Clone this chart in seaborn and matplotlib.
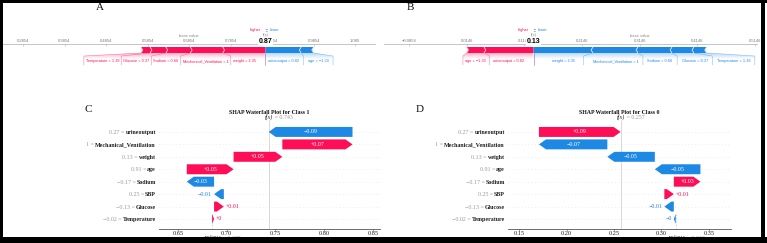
import numpy as np
import matplotlib
matplotlib.use("Agg")
import matplotlib.pyplot as plt
import seaborn as sns
from matplotlib.patches import Polygon, Rectangle
from matplotlib.colors import LinearSegmentedColormap
from matplotlib.transforms import blended_transform_factory, ScaledTranslation

# ---------------- data ----------------
force_features = ["age", "urineoutput", "weight", "Mechanical_Ventilation",
                  "Sodium", "Glucose", "Temperature"]
force_feature_values = ["\u22121.33", "0.82", "2.35", "1", "0.66", "0.37", "1.39"]
force_shap_class1 = [-0.030, -0.086, 0.103, 0.078, 0.059, 0.038, 0.022]
force_shap_class0 = [0.030, 0.086, -0.103, -0.078, -0.059, -0.038, -0.022]
force_base_class1 = 0.6854
force_base_class0 = 0.3146
force_ticks_class1 = [0.2854, 0.3854, 0.4854, 0.5854, 0.6854, 0.7854, 0.8854, 0.9854, 1.085]
force_ticks_class0 = [-0.0854, 0.0146, 0.1146, 0.2146, 0.3146, 0.4146, 0.5146]

wf_features = ["urineoutput", "Mechanical_Ventilation", "weight", "age",
               "Sodium", "SBP", "Glucose", "Temperature"]
wf_feature_values = ["0.27", "1", "0.13", "0.91", "\u22120.17", "0.25", "\u22120.13", "\u22120.02"]
wf_shap_class1 = [-0.086, 0.072, 0.050, 0.048, -0.028, -0.010, 0.010, 0.002]
wf_shap_class0 = [0.086, -0.072, -0.050, -0.048, 0.028, 0.010, -0.010, -0.002]
wf_base_class1 = 0.685
wf_base_class0 = 0.315
wf_ticks_class1 = [0.65, 0.70, 0.75, 0.80, 0.85]
wf_ticks_class0 = [0.15, 0.20, 0.25, 0.30, 0.35]

# ---------------- style ----------------
sns.set_theme(style="white")
SANS = ['Liberation Sans', 'DejaVu Sans']
SERIF = ['Liberation Serif', 'DejaVu Serif']
plt.rcParams['font.family'] = SANS
plt.rcParams['axes.unicode_minus'] = True

RED = "#FF0D57"
BLUE = "#1E88E5"
RED_L = "#FFC3D5"
BLUE_L = "#D1E6FA"

W, H, DPI = 767, 243, 100
fig = plt.figure(figsize=(W / DPI, H / DPI), dpi=DPI)
fig.patch.set_facecolor("white")


def px_axes(x0, y0, x1, y1):
    return fig.add_axes([x0 / W, 1 - y1 / H, (x1 - x0) / W, (y1 - y0) / H])


def renderer():
    fig.canvas.draw()
    return fig.canvas.get_renderer()


# ---------------- force plot ----------------
def force_plot(px0, px1, xlim, shap_vals, base, ticks):
    Y_AX, Y_END = 44, 80
    ax = px_axes(px0, Y_AX, px1, Y_END)
    ax.set_facecolor("none")
    for k, sp in ax.spines.items():
        sp.set_visible(k == "top")
    ax.spines["top"].set_color("#bbbbbb")
    ax.spines["top"].set_linewidth(0.6)
    ax.set_xticks(ticks)
    ax.set_xticklabels([f"{t:.4g}".replace("-", "\u2212") for t in ticks],
                       fontsize=3, color="#777777", fontfamily=SANS)
    ax.tick_params(axis="x", top=True, labeltop=True, bottom=False, labelbottom=False,
                   direction="in", length=1.5, width=0.4, color="#aaaaaa", pad=0.6)
    ax.set_yticks([])
    sx = (xlim[1] - xlim[0]) / (px1 - px0)
    out = base + sum(shap_vals)

    Y_TOP, Y_BOT, Y_MID = 47, 53, 50
    Y_LAB, Y_KNEE, Y_LOW = 61, 56, 65
    sep_w = (xlim[1] - xlim[0]) / 200

    items = list(zip(shap_vals, force_features, force_feature_values))
    pos = sorted([it for it in items if it[0] > 0], key=lambda t: -t[0])
    neg = sorted([it for it in items if it[0] < 0], key=lambda t: t[0])

    groups = []
    for kind, feats in (("pos", pos), ("neg", neg)):
        pre = out
        segs = []
        for idx, (v, name, fv) in enumerate(feats):
            if kind == "pos":
                left, right = pre - v, pre
                pre = left
                ind, sep_pos, c, cl = sep_w, left, RED, RED_L
            else:
                left, right = pre, pre - v
                pre = right
                ind, sep_pos, c, cl = -sep_w, right, BLUE, BLUE_L
            if idx == 0:
                if kind == "pos":
                    pts = [(left, Y_BOT), (right, Y_BOT), (right, Y_TOP), (left, Y_TOP), (left + ind, Y_MID)]
                else:
                    pts = [(right, Y_BOT), (left, Y_BOT), (left, Y_TOP), (right, Y_TOP), (right + ind, Y_MID)]
            else:
                pts = [(left, Y_BOT), (right, Y_BOT), (right + ind * 0.9, Y_MID), (right, Y_TOP),
                       (left, Y_TOP), (left + ind * 0.9, Y_MID)]
            ax.add_patch(Polygon(pts, closed=True, facecolor=c, lw=0, zorder=3))
            ax.add_patch(Polygon([(sep_pos, Y_BOT), (sep_pos + ind, Y_MID), (sep_pos, Y_TOP)],
                                 closed=False, fill=False, edgecolor=cl, lw=0.6, zorder=4))
            segs.append((left, right, name, fv))
        groups.append((kind, segs))

    texts = []
    for kind, segs in groups:
        c = RED if kind == "pos" else BLUE
        ts = [ax.text((l + r) / 2, Y_LAB, f"{n} = {fv}", fontsize=2.8, color=c,
                      ha="center", va="center", fontfamily=SANS, zorder=5) for l, r, n, fv in segs]
        texts.append(ts)
    r_ = renderer()
    for (kind, segs), ts in zip(groups, texts):
        c = RED if kind == "pos" else BLUE
        gap = (4 if kind == "pos" else 9) * sx
        prev = np.inf if kind == "pos" else -np.inf
        edges = []
        for (l, r, n, fv), t in zip(segs, ts):
            w = t.get_window_extent(r_).width * sx
            cen = (l + r) / 2
            if kind == "pos":
                right = min(cen + w / 2, prev - gap)
                left = right - w
                prev = left
            else:
                left = max(cen - w / 2, prev + gap)
                right = left + w
                prev = right
            t.set_x((left + right) / 2)
            edges.append((left, right))
        ax.plot([out, out], [Y_BOT, Y_LOW], color=c, lw=0.4, alpha=0.5, zorder=2)
        for i, ((l, r, n, fv), (el, er)) in enumerate(zip(segs, edges)):
            if kind == "pos":
                val = l
                sep = (el + edges[i + 1][1]) / 2 if i + 1 < len(edges) else el - gap / 2
            else:
                val = r
                sep = (er + edges[i + 1][0]) / 2 if i + 1 < len(edges) else er + gap / 2
            ax.plot([val, sep, sep], [Y_BOT, Y_KNEE, Y_LOW], color=c, lw=0.4, alpha=0.5, zorder=2)
            outer_sep, outer_val = sep, val
        patch = Polygon([(out, Y_BOT), (outer_val, Y_BOT), (outer_sep, Y_KNEE), (outer_sep, Y_LOW),
                         (out, Y_LOW)], closed=True, fc="none", ec="none")
        ax.add_patch(patch)
        cm = LinearSegmentedColormap.from_list("g", [c, "white"])
        Z = np.clip(np.linspace(0, 2, 60), 0, 1)[:, None] * np.ones((1, 2))
        im = ax.imshow(Z, cmap=cm, vmin=0, vmax=1, alpha=0.3,
                       extent=(min(out, outer_sep), max(out, outer_sep), Y_LOW, Y_BOT),
                       origin="upper", aspect="auto", interpolation="bilinear", zorder=1)
        im.set_clip_path(patch)
    ax.set_xlim(*xlim)
    ax.set_ylim(Y_END, Y_AX)

    off = 4.5 * sx
    ax.text(out - off, 30, "higher", color=RED, fontsize=3, ha="right", va="center", fontfamily=SANS)
    ax.text(out + off, 30, "lower", color=BLUE, fontsize=3, ha="left", va="center", fontfamily=SANS)
    ax.text(out, 29.3, "\u2192", color=RED, fontsize=2.4, ha="center", va="center", fontfamily=SANS)
    ax.text(out, 30.9, "\u2190", color=BLUE, fontsize=2.4, ha="center", va="center", fontfamily=SANS)
    ax.text(out, 35.3, "f(x)", color="#888888", fontsize=3, ha="center", va="center", fontfamily=SANS)
    ax.text(base, 35.8, "base value", color="#888888", fontsize=3, ha="center", va="center",
            fontfamily=SANS, bbox=dict(fc="white", ec="none", pad=0.2))
    ax.text(out, 41.6, f"{out:.2f}", color="black", fontsize=5, weight="bold", ha="center",
            va="center", fontfamily=SANS, bbox=dict(fc="white", ec="none", pad=0.3), zorder=6)
    return ax


# ---------------- waterfall ----------------
def fmt(v):
    s = f"{v:+.2f}".rstrip("0").rstrip(".")
    return s.replace("-", "\u2212")


def waterfall(px0, px1, xlim, shap_vals, base, cls, ticks):
    Y0, Y1 = 120, 229
    FS = 4.3
    ax = px_axes(px0, Y0, px1, Y1)
    ax.set_facecolor("none")
    ax.set_xlim(*xlim)
    ylim = (-0.805, 7.96)
    ax.set_ylim(*ylim)
    sns.despine(ax=ax, left=True, top=True, right=True)
    ax.spines["bottom"].set_color("#555555")
    ax.spines["bottom"].set_linewidth(0.6)
    ax.set_xticks(ticks)
    ax.set_xticklabels([f"{t:.2f}" for t in ticks], fontsize=4.6, fontfamily=SERIF, color="#222222")
    ax.tick_params(axis="x", bottom=True, length=1.2, width=0.4, color="#555555", pad=0.2)
    ax.set_yticks([])
    sx = (xlim[1] - xlim[0]) / (px1 - px0)
    n = len(wf_features)
    vals_rev = np.array(shap_vals[::-1], dtype=float)
    starts = base + np.concatenate([[0.0], np.cumsum(vals_rev)[:-1]])
    fx = base + float(np.sum(vals_rev))

    for r in range(n):
        ax.axhline(r, color="#cccccc", lw=0.4, dashes=(1, 5), zorder=0)
    ax.axvline(fx, color="#bbbbbb", lw=0.4, zorder=0, ymax=1.0)
    ax.axvline(base, color="#bbbbbb", lw=0.4, zorder=0, ymax=(0.5 - ylim[0]) / (ylim[1] - ylim[0]),
               ls=(0, (3, 3)))

    h = 0.8
    hl_max = 7 * sx
    val_texts = []
    for r, s, v in zip(range(n), starts, vals_rev):
        e = s + v
        c = RED if v > 0 else BLUE
        hl = min(abs(v), hl_max)
        sg = 1 if v > 0 else -1
        pts = [(s, r - h / 2), (e - sg * hl, r - h / 2), (e, r), (e - sg * hl, r + h / 2), (s, r + h / 2)]
        ax.add_patch(Polygon(pts, closed=True, facecolor=c, lw=0, zorder=3))
        t = ax.text((s + e) / 2, r, fmt(v), color="white", fontsize=FS, ha="center", va="center",
                    fontfamily=SERIF, zorder=4)
        val_texts.append((t, s, e, v, c))

    # y labels: "value = " in grey, feature name in bold dark
    trans = blended_transform_factory(ax.transAxes, ax.transData)
    base_shift = ScaledTranslation(-2.2 / 72, -FS * 0.33 / 72, fig.dpi_scale_trans)
    name_texts = []
    for i, (name, fv) in enumerate(zip(wf_features, wf_feature_values)):
        r = n - 1 - i
        nt = ax.text(0, r, name, transform=trans + base_shift, ha="right", va="baseline",
                     fontsize=FS, weight="bold", color="#222222", fontfamily=SERIF)
        name_texts.append((nt, r, fv))

    r_ = renderer()
    for t, s, e, v, c in val_texts:
        wpx = t.get_window_extent(r_).width
        if wpx + 2 > abs(e - s) / sx:
            t.set_color(c)
            if v > 0:
                t.set_x(e + 2 * sx)
                t.set_ha("left")
            else:
                t.set_x(e - 2 * sx)
                t.set_ha("right")
    for nt, r, fv in name_texts:
        wpt = nt.get_window_extent(r_).width * 72 / fig.dpi
        shift = ScaledTranslation(-(2.2 + wpt + 0.8) / 72, -FS * 0.33 / 72, fig.dpi_scale_trans)
        ax.text(0, r, f"{fv} =", transform=trans + shift, ha="right", va="baseline",
                fontsize=FS, color="#999999", fontfamily=SERIF)

    ax.text(0.5, 1 + (Y0 - 112) / (Y1 - Y0), f"SHAP Waterfall Plot for Class {cls}",
            transform=ax.transAxes, ha="center", va="center", fontsize=4.2, weight="bold",
            fontfamily=SERIF, color="#111111")
    tr2 = blended_transform_factory(ax.transData, ax.transAxes)
    ft = ax.text(fx, 1 + (Y0 - 117) / (Y1 - Y0), "f(x)", transform=tr2, ha="center", va="center",
                 fontsize=FS, style="italic", fontfamily=SERIF, color="#222222")
    ax.annotate(f" = {fx:.3f}", xy=(1, 0.5), xycoords=ft, ha="left", va="center",
                fontsize=FS, color="#999999", fontfamily=SERIF)
    et = ax.text(base, -(238.5 - Y1) / (Y1 - Y0), "E[f(X)]", transform=tr2, ha="center", va="center",
                 fontsize=FS, style="italic", fontfamily=SERIF, color="#222222")
    ax.annotate(f" = {base:.3f}", xy=(1, 0.5), xycoords=et, ha="left", va="center",
                fontsize=FS, color="#999999", fontfamily=SERIF)
    return ax


force_plot(3, 375, (0.2372, 1.1332), force_shap_class1, force_base_class1, force_ticks_class1)
force_plot(384, 757, (-0.1287, 0.5180), force_shap_class0, force_base_class0, force_ticks_class0)
waterfall(159, 380, (0.6305, 0.8572), wf_shap_class1, wf_base_class1, 1, wf_ticks_class1)
waterfall(508, 731, (0.1384, 0.3732), wf_shap_class0, wf_base_class0, 0, wf_ticks_class0)

for letter, (x, y) in {"A": (100, 7), "B": (410, 7), "C": (88, 110), "D": (420, 110)}.items():
    fig.text(x / W, 1 - y / H, letter, fontsize=8, fontfamily=SERIF, ha="center", va="center",
             color="#111111")

for (x, y, w, h) in [(0, 0, W, 3), (0, 0, 3, H), (761, 0, 4, H), (0, 237, W, 6)]:
    fig.add_artist(Rectangle((x / W, 1 - (y + h) / H), w / W, h / H, transform=fig.transFigure,
                             facecolor="black", edgecolor="none", zorder=100))

fig.savefig("out.png", dpi=DPI, facecolor="white")
